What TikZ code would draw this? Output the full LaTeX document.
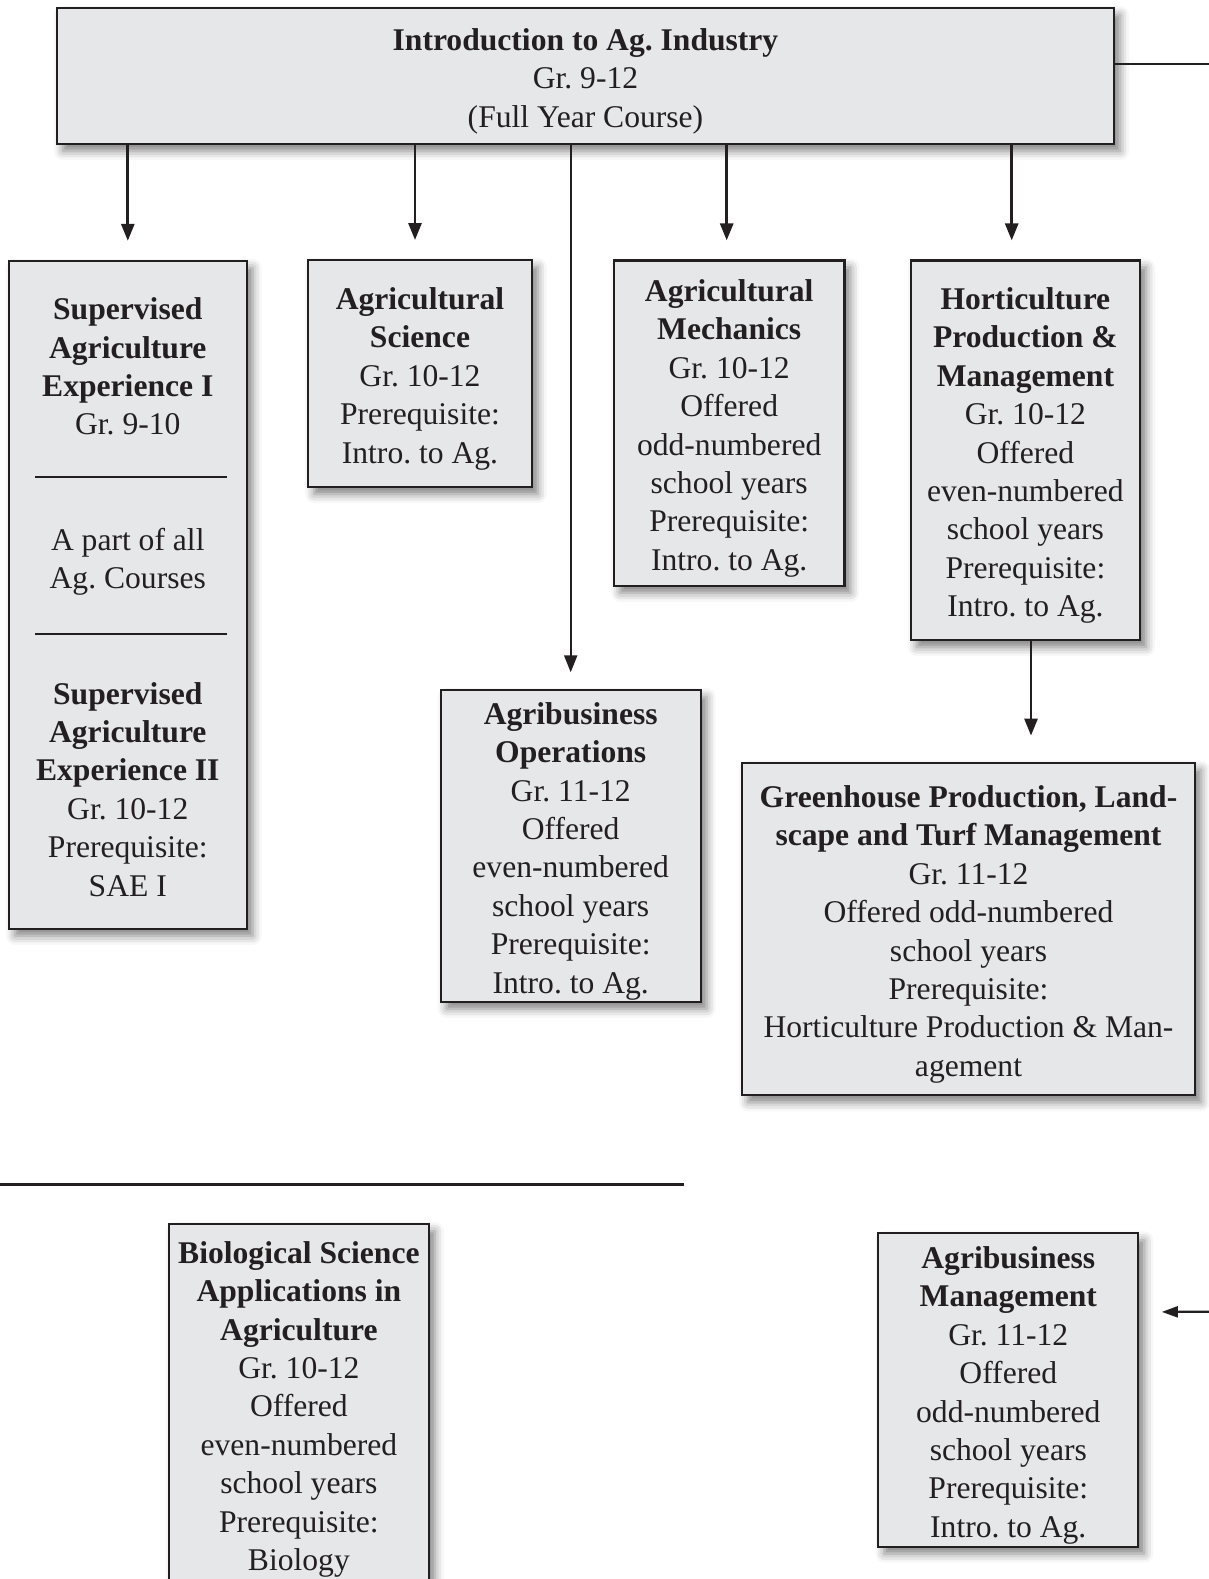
\documentclass[tikz,border=0pt]{standalone}
\usepackage{fontspec}
\setmainfont{Liberation Serif}
\usepackage{tikz}
\usetikzlibrary{arrows.meta, shadows.blur}
\definecolor{boxfill}{HTML}{E6E7E8}
\definecolor{ink}{HTML}{231F20}
\newcommand{\toprow}{\rule{0pt}{16.2pt}}

\begin{document}
\begin{tikzpicture}[x=0.5pt, y=-0.5pt,
  course node/.style={rectangle, draw=ink, line width=1.1pt, fill=boxfill, align=center, inner sep=0pt,
    text=ink, font=\fontsize{15.8}{19.2}\selectfont\frenchspacing,
    blur shadow={shadow xshift=3pt, shadow yshift=-3.5pt, shadow blur radius=4.5pt, shadow opacity=50}},
  part text/.style={align=center, inner sep=0pt, text=ink, font=\fontsize{15.8}{19.2}\selectfont\frenchspacing},
  link/.style={draw=ink, line width=1.4pt, -{Triangle[length=8.5pt,width=6.5pt]}, shorten >=9.5pt},
  rule line/.style={draw=ink, line width=1.3pt}]

\useasboundingbox (0,0) rectangle (1209,1579);

\node[course node, minimum width=528.5pt, minimum height=68pt] (intro) at (585.5,76)
  {\toprow\textbf{Introduction to Ag. Industry}\\Gr. 9-12\\(Full Year Course)};

\node[course node, minimum width=118.8pt, minimum height=334pt] (sae) at (127.8,594.9) {};
\node[part text] (sae1) at (127.8,366.5)
  {\textbf{Supervised}\\\textbf{Agriculture}\\\textbf{Experience I}\\Gr. 9-10};
\node[part text] (sae2) at (127.8,561.7) {A part of all\\Ag. Courses};
\node[part text] (sae3) at (127.8,789.3)
  {\textbf{Supervised}\\\textbf{Agriculture}\\\textbf{Experience II}\\Gr. 10-12\\Prerequisite:\\SAE I};
\draw[rule line] (35,477) -- (227,477);
\draw[rule line] (35,634) -- (227,634);

\node[course node, minimum width=111.8pt, minimum height=113.5pt] (agsci) at (420,373.6)
  {\toprow\textbf{Agricultural}\\\textbf{Science}\\Gr. 10-12\\Prerequisite:\\Intro. to Ag.};

\node[course node, minimum width=115.2pt, minimum height=162.7pt] (agmech) at (729.2,423.2)
  {\toprow\textbf{Agricultural}\\\textbf{Mechanics}\\Gr. 10-12\\Offered\\odd-numbered\\school years\\Prerequisite:\\Intro. to Ag.};

\node[course node, minimum width=114.7pt, minimum height=189.8pt] (hort) at (1025.4,450.3)
  {\toprow\textbf{Horticulture}\\\textbf{Production \&}\\\textbf{Management}\\Gr. 10-12\\Offered\\even-numbered\\school years\\Prerequisite:\\Intro. to Ag.};

\node[course node, minimum width=130pt, minimum height=155.9pt] (agops) at (570.7,845.9)
  {\toprow\textbf{Agribusiness}\\\textbf{Operations}\\Gr. 11-12\\Offered\\even-numbered\\school years\\Prerequisite:\\Intro. to Ag.};

\node[course node, minimum width=226.5pt, minimum height=166.3pt] (greenhouse) at (968.5,929)
  {\toprow\textbf{Greenhouse Production, Land-}\\\textbf{scape and Turf Management}\\Gr. 11-12\\Offered odd-numbered\\school years\\Prerequisite:\\Horticulture Production \& Man-\\agement};

\node[course node, minimum width=129.9pt, minimum height=180pt] (bio) at (298.9,1404)
  {\toprow\textbf{Biological Science}\\\textbf{Applications in}\\\textbf{Agriculture}\\Gr. 10-12\\Offered\\even-numbered\\school years\\Prerequisite:\\Biology};

\node[course node, minimum width=130pt, minimum height=156.7pt] (agmgmt) at (1008.3,1390)
  {\toprow\textbf{Agribusiness}\\\textbf{Management}\\Gr. 11-12\\Offered\\odd-numbered\\school years\\Prerequisite:\\Intro. to Ag.};

\coordinate (offpage) at (1209,64);
\coordinate (fromright) at (1209,1311.7);

\draw[link] (intro.south -| sae.north) -- (sae.north);
\draw[link] ([xshift=-2.5pt]intro.south -| agsci.north) -- ([xshift=-2.5pt]agsci.north);
\draw[link] ([xshift=-1.25pt]intro.south -| agmech.north) -- ([xshift=-1.25pt]agmech.north);
\draw[link] ([xshift=-6.85pt]intro.south -| hort.north) -- ([xshift=-6.85pt]hort.north);
\draw[link, line width=1.1pt, shorten >=8.3pt] (intro.south -| agops.north) -- (agops.north);
\draw[link, shorten >=13pt] ([xshift=2.8pt]hort.south) -- ([xshift=2.8pt]hort.south |- greenhouse.north);
\draw[rule line, line width=1.1pt] ([yshift=6pt]intro.east) -- (offpage);
\draw[link, line width=1.1pt, -{Triangle[length=8pt,width=5.5pt]}, shorten >=11.2pt] (fromright) -- ([yshift=39pt]agmgmt.east);

\draw[rule line] (0,1184.5) -- (684,1184.5);
\end{tikzpicture}
\end{document}
